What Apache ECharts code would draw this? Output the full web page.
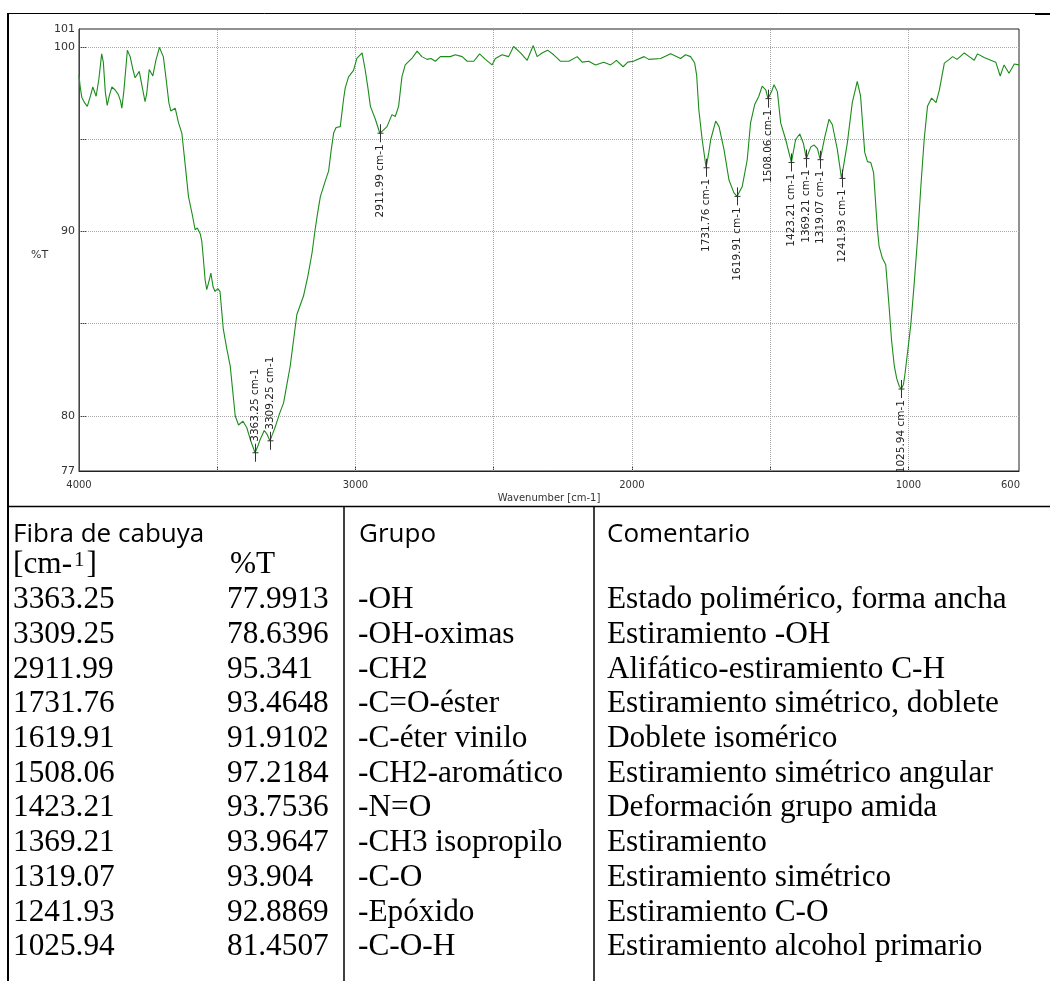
<!DOCTYPE html>
<html>
<head>
<meta charset="utf-8">
<title>FTIR - Fibra de cabuya</title>
<script src="https://cdn.jsdelivr.net/npm/echarts@6/dist/echarts.min.js"></script>
<style>
  html, body { margin: 0; padding: 0; background: #ffffff; }
  #chart { width: 1050px; height: 981px; }
</style>
</head>
<body>
<div id="chart"></div>
<script>
// FTIR spectrum of cabuya fibre: wavenumber (cm-1) and transmittance (%T)
const spectrumWn = [
  4000, 3996, 3990, 3980, 3970, 3958, 3950, 3938, 3928, 3918, 3912, 3905, 3898, 3890, 3881, 3870,
  3858, 3850, 3845, 3838, 3825, 3815, 3805, 3797, 3782, 3772, 3761, 3755, 3746, 3733, 3722, 3709,
  3695, 3685, 3675, 3668, 3652, 3640, 3628, 3615, 3604, 3590, 3580, 3572, 3562, 3556, 3550, 3544,
  3538, 3530, 3523, 3515, 3508, 3498, 3490, 3478, 3465, 3453, 3445, 3435, 3423, 3407, 3393, 3378,
  3363.25, 3352, 3345, 3330, 3320, 3309.25, 3300, 3290, 3275, 3260, 3248, 3236, 3224, 3212, 3200, 3188,
  3172, 3157, 3146, 3137, 3127, 3109, 3097, 3088, 3079, 3070, 3055, 3043, 3037, 3025, 3007, 2995,
  2976, 2965, 2955, 2946, 2928, 2911.99, 2900, 2886, 2868, 2856, 2844, 2832, 2820, 2796, 2777, 2760,
  2741, 2727, 2711, 2693, 2657, 2639, 2614, 2596, 2572, 2551, 2530, 2506, 2494, 2470, 2446, 2428,
  2403, 2379, 2357, 2343, 2325, 2305, 2283, 2259, 2228, 2198, 2180, 2156, 2132, 2102, 2077, 2056,
  2032, 2015, 1995, 1956, 1939, 1896, 1860, 1824, 1806, 1788, 1773, 1766, 1758, 1746, 1731.76, 1722,
  1715, 1697, 1685, 1667, 1649, 1631, 1619.91, 1601, 1583, 1571, 1556, 1541, 1529, 1516, 1508.06, 1495,
  1486, 1474, 1462, 1444, 1423.21, 1408, 1393, 1380, 1369.21, 1353, 1341, 1329, 1319.07, 1303, 1287, 1275,
  1257, 1241.93, 1221, 1203, 1185, 1173, 1158, 1148, 1136, 1126, 1112, 1106, 1094, 1082, 1070, 1061,
  1051, 1042, 1033, 1025.94, 1018, 1013, 1001, 991, 979, 967, 955, 943, 931, 916, 900, 888,
  870, 852, 840, 824, 798, 780, 762, 750, 726, 702, 684, 668, 654, 636, 617, 600
];
const spectrumT = [
  98.5, 97.9, 97.3, 97.0, 96.8, 97.4, 97.85, 97.35, 98.3, 99.65, 99.2, 97.6, 96.85, 97.4, 97.85, 97.7,
  97.45, 97.1, 96.7, 97.6, 99.85, 99.5, 98.8, 98.35, 98.7, 97.9, 97.05, 97.5, 98.8, 98.45, 99.3, 100.0,
  99.5, 98.3, 97.0, 96.55, 96.7, 95.9, 95.35, 93.5, 91.9, 90.9, 90.1, 90.2, 89.9, 89.5, 88.5, 87.4,
  86.85, 87.3, 87.75, 87.0, 86.75, 86.9, 86.75, 84.7, 83.6, 82.7, 81.5, 80.0, 79.5, 79.7, 79.35, 78.6,
  77.9913, 78.4, 78.7, 79.2, 79.0, 78.6396, 79.0, 79.4, 80.1, 80.7, 81.7, 82.7, 84.1, 85.5, 86.0, 86.5,
  87.6, 88.85, 90.1, 91.0, 91.9, 92.75, 93.3, 94.4, 95.35, 95.65, 95.7, 97.2, 97.8, 98.4, 98.75, 99.4,
  99.7, 98.8, 97.8, 96.8, 96.1, 95.341, 95.5, 95.7, 96.35, 96.25, 96.8, 98.4, 99.05, 99.4, 99.8, 99.5,
  99.35, 99.4, 99.25, 99.5, 99.5, 99.6, 99.5, 99.25, 99.25, 99.65, 99.35, 99.05, 99.4, 99.6, 99.5, 100.05,
  99.7, 99.3, 100.1, 99.5, 99.7, 99.85, 99.6, 99.25, 99.25, 99.5, 99.2, 99.25, 99.05, 99.2, 99.05, 99.3,
  98.95, 99.2, 99.25, 99.5, 99.35, 99.4, 99.65, 99.4, 99.6, 99.5, 99.15, 98.5, 96.6, 95.0, 93.4648, 94.3,
  95.0, 96.0, 95.7, 94.45, 92.8, 92.1, 91.9102, 92.45, 93.9, 95.9, 96.9, 97.35, 97.9, 97.7, 97.2184, 97.6,
  97.97, 97.6, 95.9, 95.0, 93.7536, 95.0, 95.3, 94.8, 93.9647, 94.6, 94.7, 94.5, 93.904, 95.1, 96.1, 95.8,
  94.45, 92.8869, 94.8, 97.0, 98.15, 97.35, 94.3, 93.8, 93.75, 93.2, 90.1, 89.2, 88.55, 88.2, 85.95, 84.1,
  82.7, 82.0, 81.6, 81.4507, 81.7, 82.2, 83.7, 85.0, 87.2, 89.6, 92.45, 95.0, 96.8, 97.25, 97.0, 97.7,
  99.15, 99.35, 99.5, 99.35, 99.7, 99.5, 99.3, 99.65, 99.45, 99.3, 99.2, 98.45, 99.05, 98.6, 99.1, 99.05
];

// Assigned bands (table below the spectrum)
const peakWavenumbers = ['3363.25', '3309.25', '2911.99', '1731.76', '1619.91', '1508.06', '1423.21', '1369.21', '1319.07', '1241.93', '1025.94'];
const peakTransmittance = ['77.9913', '78.6396', '95.341', '93.4648', '91.9102', '97.2184', '93.7536', '93.9647', '93.904', '92.8869', '81.4507'];
const peakGroups = ['-OH', '-OH-oximas', '-CH2', '-C=O-éster', '-C-éter vinilo', '-CH2-aromático', '-N=O', '-CH3 isopropilo', '-C-O', '-Epóxido', '-C-O-H'];
const peakComments = [
  'Estado polimérico, forma ancha',
  'Estiramiento -OH',
  'Alifático-estiramiento C-H',
  'Estiramiento simétrico, doblete',
  'Doblete isomérico',
  'Estiramiento simétrico angular',
  'Deformación grupo amida',
  'Estiramiento',
  'Estiramiento simétrico',
  'Estiramiento C-O',
  'Estiramiento alcohol primario'
];

// Axis ticks and grid
const xTickLabels = [4000, 3000, 2000, 1000, 600];
const xGridValues = [3500, 3000, 2500, 2000, 1500, 1000];
const yTickLabels = [77, 80, 90, 100, 101];
const yGridValues = [80, 85, 90, 95, 100];

const axisFont = '"DejaVu Sans", Tahoma, sans-serif';
const serif = '"Liberation Serif", "Times New Roman", serif';
const sans = '"Open Sans", "Noto Sans", sans-serif';

const spectrum = spectrumWn.map((w, i) => [w, spectrumT[i]]);
const peaks = peakWavenumbers.map((w, i) => [parseFloat(w), parseFloat(peakTransmittance[i])]);

// ---- table drawn under the chart ----
const tableGraphics = [];
const black = '#000';
function hLine(x1, x2, y, w) {
  tableGraphics.push({ type: 'line', silent: true, shape: { x1, y1: y, x2, y2: y }, style: { stroke: black, lineWidth: w } });
}
function vLine(x, y1, y2, w) {
  tableGraphics.push({ type: 'line', silent: true, shape: { x1: x, y1, x2: x, y2 }, style: { stroke: black, lineWidth: w } });
}
function cell(text, x, y, font, size) {
  tableGraphics.push({
    type: 'text', silent: true, x, y,
    style: { text, fill: black, font: size + 'px ' + font, align: 'left', verticalAlign: 'middle' }
  });
}

hLine(8, 1035, 13.5, 1);
hLine(1035, 1050, 14, 2);
vLine(8, 13, 981, 2);
hLine(8, 1050, 506.5, 1.5);
vLine(344, 507, 981, 1.5);
vLine(594, 507, 981, 1.5);

const bodySize = 31.3;
const colWn = 13, colT = 227, colGroup = 358, colComment = 607;
cell('Fibra de cabuya', colWn, 535, sans, 26);
cell('Grupo', colGroup + 1, 535, sans, 26);
cell('Comentario', colComment, 535, sans, 26);
tableGraphics.push({
  type: 'text', silent: true, x: colWn, y: 565,
  style: {
    text: '{a|[cm-}{s|1}{a|]}', fill: black, align: 'left', verticalAlign: 'middle',
    rich: {
      a: { font: bodySize + 'px ' + serif, fill: black },
      s: { font: '21px ' + serif, fill: black, verticalAlign: 'top', padding: [0, 2, 0, 2] }
    }
  }
});
cell('%T', colT + 3, 565, serif, bodySize);

const rowStart = 600, rowStep = 34.7;
peakWavenumbers.forEach((w, i) => {
  const y = rowStart + i * rowStep;
  cell(w, colWn, y, serif, bodySize);
  cell(peakTransmittance[i], colT, y, serif, bodySize);
  cell(peakGroups[i], colGroup, y, serif, bodySize);
  cell(peakComments[i], colComment, y, serif, bodySize);
});

const chart = echarts.init(document.getElementById('chart'), null, { renderer: 'canvas', width: 1050, height: 981 });

chart.setOption({
  animation: false,
  backgroundColor: '#ffffff',
  grid: {
    left: 79, top: 29, width: 940, height: 442,
    show: true, borderColor: '#222', borderWidth: 1, backgroundColor: 'transparent'
  },
  xAxis: {
    type: 'value',
    inverse: true,
    min: 600,
    max: 4000,
    name: 'Wavenumber [cm-1]',
    nameLocation: 'middle',
    nameGap: 22,
    nameTextStyle: { fontFamily: axisFont, fontSize: 10, color: '#333' },
    axisLine: { show: true, lineStyle: { color: '#222', width: 1 } },
    axisTick: { show: true, inside: true, length: 5, customValues: xGridValues, lineStyle: { color: '#333' } },
    axisLabel: {
      customValues: xTickLabels,
      margin: 9,
      fontFamily: axisFont,
      fontSize: 10,
      color: '#333',
      formatter: v => (v === 600 ? '{end|600}' : String(v)),
      rich: { end: { fontFamily: axisFont, fontSize: 10, color: '#333', padding: [0, 17, 0, 0] } }
    },
    splitLine: { show: false }
  },
  yAxis: {
    type: 'value',
    min: 77,
    max: 101,
    name: '%T',
    nameLocation: 'middle',
    nameRotate: 0,
    nameGap: 29,
    nameTextStyle: { fontFamily: axisFont, fontSize: 11, color: '#333', verticalAlign: 'top' },
    axisLine: { show: true, lineStyle: { color: '#444', width: 1 } },
    axisTick: { show: true, inside: true, length: 7, customValues: yGridValues, lineStyle: { color: '#444' } },
    axisLabel: { customValues: yTickLabels, margin: 4, fontFamily: axisFont, fontSize: 11, color: '#333' },
    splitLine: { show: false }
  },
  series: [
    {
      name: 'Fibra de cabuya',
      type: 'line',
      data: spectrum,
      showSymbol: false,
      symbol: 'none',
      smooth: false,
      z: 3,
      lineStyle: { color: '#1a8c1a', width: 1.1 },
      markLine: {
        silent: true,
        z: 1,
        symbol: 'none',
        label: { show: false },
        lineStyle: { type: 'dotted', color: '#a8a8a8', width: 1 },
        data: xGridValues.map(v => ({ xAxis: v })).concat(yGridValues.map(v => ({ yAxis: v })))
      }
    },
    {
      name: 'Picos',
      type: 'custom',
      data: peaks,
      z: 4,
      renderItem: (params, api) => {
        const wn = api.value(0);
        const t = api.value(1);
        const p = api.coord([wn, t]);
        const x = Math.round(p[0]) + 0.5;
        const y = p[1];
        const above = t < 80;
        const text = peakWavenumbers[params.dataIndex] + ' cm-1';
        return {
          type: 'group',
          children: [
            { type: 'line', shape: { x1: x, y1: y - 9, x2: x, y2: y + 9 }, style: { stroke: '#333', lineWidth: 1 } },
            { type: 'line', shape: { x1: x - 3, y1: y, x2: x + 3, y2: y }, style: { stroke: '#333', lineWidth: 1 } },
            {
              type: 'text',
              x: x,
              y: above ? y - 11 : y + 11,
              rotation: Math.PI / 2,
              style: {
                text: text,
                fill: '#222',
                font: '10.5px ' + axisFont,
                align: above ? 'left' : 'right',
                verticalAlign: 'middle'
              }
            }
          ]
        };
      }
    }
  ],
  graphic: tableGraphics
});
</script>
</body>
</html>
